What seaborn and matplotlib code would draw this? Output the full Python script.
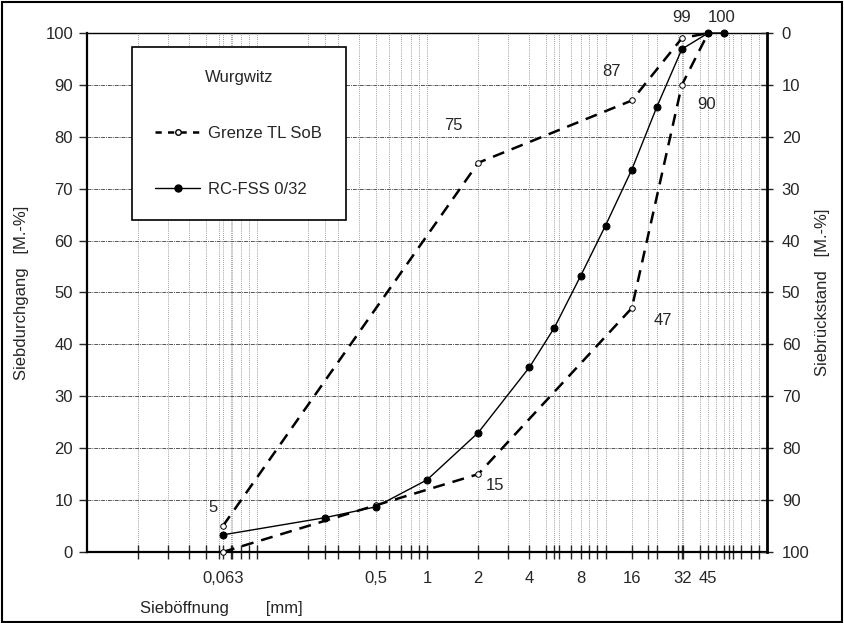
import matplotlib
matplotlib.use("Agg")
import matplotlib.pyplot as plt
import matplotlib.ticker as mticker
from matplotlib.lines import Line2D
from matplotlib.patches import Rectangle
import seaborn as sns
import numpy as np

# ---------------- data ----------------
sieve_rc = [0.063, 0.25, 0.5, 1, 2, 4, 5.6, 8, 11.2, 16, 22.4, 31.5, 45, 56]
pass_rc = [3.3, 6.6, 8.7, 13.9, 23.0, 35.6, 43.2, 53.2, 62.9, 73.7, 85.7, 96.9, 100, 100]

grenze_upper_x = [0.063, 2, 16, 31.5, 45]
grenze_upper_y = [5, 75, 87, 99, 100]
grenze_lower_x = [0.063, 0.5, 2, 16, 31.5, 45]
grenze_lower_y = [0, 9, 15, 47, 90, 100]

xtick_values = [0.063, 0.5, 1, 2, 4, 8, 16, 32, 45]
xtick_labels = ["0,063", "0,5", "1", "2", "4", "8", "16", "32", "45"]
extra_minor = [0.063, 0.071, 0.25, 5.6, 11.2, 16, 22.4, 31.5, 32, 45, 56, 63]
yticks = list(range(0, 101, 10))

point_labels = ["5", "75", "87", "99", "100", "90", "47", "15"]
point_label_xy = [(0.063, 5), (2, 75), (16, 87), (31.5, 99), (45, 100), (31.5, 90), (16, 47), (2, 15)]
point_label_off = [(-7, 13), (-18, 27), (-15, 21), (0, 15), (10, 11), (18, -14), (22, -9), (12, -8)]

# ---------------- style ----------------
sns.set_style("white")
plt.rcParams["font.family"] = ["Liberation Sans", "DejaVu Sans"]
plt.rcParams["font.size"] = 12

fig = plt.figure(figsize=(8.44, 6.23), dpi=100)
ax = fig.add_axes([0.103, 0.114, 0.806, 0.833])
ax.set_xscale("log")

dash = (0, (4.8, 3.2))
for gx, gy in [(grenze_upper_x, grenze_upper_y), (grenze_lower_x, grenze_lower_y)]:
    sns.lineplot(x=gx, y=gy, ax=ax, color="black", lw=1.8,
                 linestyle=dash, marker="o", markersize=4, markerfacecolor="white",
                 markeredgecolor="black", markeredgewidth=0.7, estimator=None,
                 sort=False, clip_on=False, zorder=4)
sns.lineplot(x=sieve_rc, y=pass_rc, ax=ax, color="black", lw=1.0,
             marker="o", markersize=5, markerfacecolor="black",
             markeredgecolor="black", estimator=None, sort=False,
             clip_on=False, zorder=5)

ax.set_xlim(0.01, 100)
ax.set_ylim(0, 100)

# ticks
minor = []
for dec in [0.01, 0.1, 1, 10]:
    for m in range(2, 10):
        minor.append(dec * m)
minor += extra_minor
ax.xaxis.set_major_locator(mticker.FixedLocator(xtick_values))
ax.xaxis.set_major_formatter(mticker.FixedFormatter(xtick_labels))
ax.xaxis.set_minor_locator(mticker.FixedLocator(minor + [0.1, 1, 10]))
ax.xaxis.set_minor_formatter(mticker.NullFormatter())
ax.tick_params(axis="x", which="both", direction="inout", length=10, width=1.0,
               pad=9, labelsize=12, bottom=True, top=False)
ax.set_yticks(yticks)
ax.tick_params(axis="y", which="both", direction="out", length=6, width=1.0,
               labelsize=12, left=True, pad=4)

# grid
ax.grid(which="minor", axis="x", color="#808080", lw=0.6, ls=(0, (1, 1.5)))
ax.grid(which="major", axis="x", color="#808080", lw=0.6, ls=(0, (1, 1.5)))
ax.grid(which="major", axis="y", color="#555555", lw=0.7, ls=(0, (4, 1, 1, 1)))
ax.set_axisbelow(True)

for s in ["left", "bottom"]:
    ax.spines[s].set_linewidth(1.6)
    ax.spines[s].set_color("black")
ax.spines["top"].set_linewidth(1.0)
ax.spines["top"].set_color("black")
ax.spines["right"].set_visible(False)

ax.set_xlabel("")
ax.set_ylabel("Siebdurchgang   [M.-%]", fontsize=12)
ax.yaxis.set_label_coords(-0.085, 0.5)

# right axis
ax2 = ax.twinx()
ax2.set_ylim(100, 0)
ax2.set_yticks(yticks)
ax2.tick_params(axis="y", direction="inout", length=9, width=1.0, labelsize=12, pad=6)
for s in ["left", "bottom", "top"]:
    ax2.spines[s].set_visible(False)
ax2.spines["right"].set_linewidth(2.0)
ax2.spines["right"].set_color("black")
ax2.set_ylabel("Siebrückstand   [M.-%]", fontsize=12)
ax2.yaxis.set_label_coords(1.071, 0.5)

# point labels
for t, xy, off in zip(point_labels, point_label_xy, point_label_off):
    ax.annotate(t, xy=xy, xytext=off, textcoords="offset points",
                ha="center", va="center", fontsize=12, annotation_clip=False)

# legend
h1 = Line2D([], [], color="black", lw=1.8, linestyle=(0, (2.5, 2.5)), marker="o",
            markersize=4, markerfacecolor="white", markeredgecolor="black")
h2 = Line2D([], [], color="black", lw=1.0, marker="o", markersize=5,
            markerfacecolor="black", markeredgecolor="black")
leg = ax.legend([h1, h2], ["Grenze TL SoB", "RC-FSS 0/32"], title="Wurgwitz",
                loc="upper left", bbox_to_anchor=(0.066, 0.973), borderaxespad=0,
                fancybox=False, framealpha=1, edgecolor="black", fontsize=12,
                title_fontsize=12, labelspacing=2.45, borderpad=1.4,
                handlelength=2.7, handletextpad=0.5, numpoints=1)
leg.get_frame().set_linewidth(1.2)
leg.set_zorder(10)

# x axis label
fig.text(140 / 844, 1 - 608 / 623, "Sieböffnung        [mm]", ha="left", va="center",
         fontsize=12)

# figure frame
fig.patches.append(Rectangle((0.002, 0.002), 0.996, 0.995, transform=fig.transFigure,
                             fill=False, edgecolor="black", lw=1.5))

fig.savefig("out.png", dpi=100)
